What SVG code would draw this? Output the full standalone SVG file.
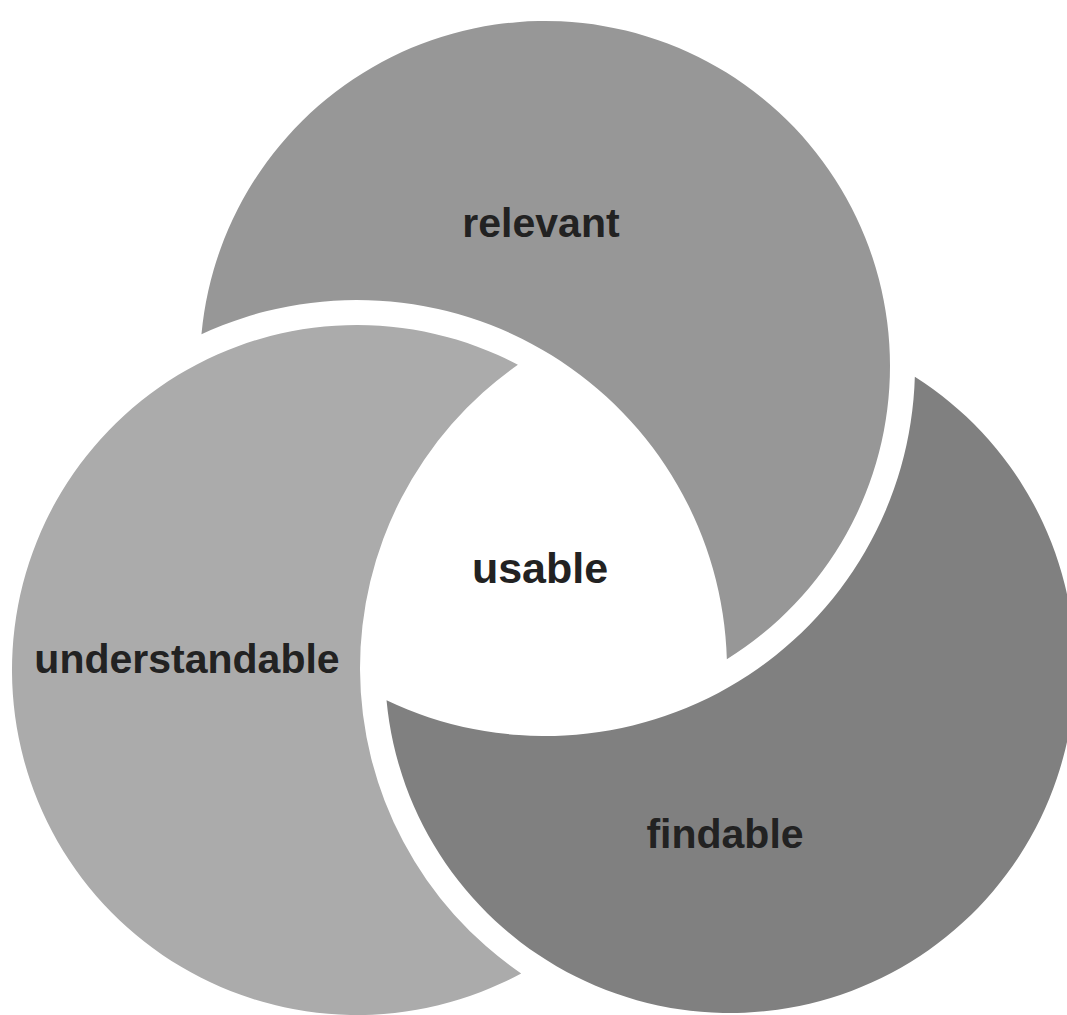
<svg xmlns="http://www.w3.org/2000/svg" width="1067" height="1015" viewBox="0 0 1067 1015">
<style>
.lbl{font-family:"Liberation Sans",Arial,sans-serif;font-weight:bold;font-size:41px;fill:#222;text-anchor:middle}
</style>
<rect width="1067" height="1015" fill="#fff"/>
<g id="relevant">
<path d="M201.46,334.27 A345,345 0 1 1 726.84,659.19 A370,370 0 0 0 201.46,334.27 Z" fill="#979797"/>
<text class="lbl" x="541" y="237">relevant</text>
</g>
<g id="understandable">
<path d="M517.91,364.83 A345,345 0 1 0 521.17,973.43 A370,370 0 0 1 517.91,364.83 Z" fill="#ababab"/>
<text class="lbl" x="187" y="673">understandable</text>
</g>
<g id="findable">
<path d="M914.84,376.70 A345,345 0 1 1 386.52,700.34 A370,370 0 0 0 914.84,376.70 Z" fill="#808080"/>
<text class="lbl" x="725" y="848">findable</text>
</g>
<g id="usable">
<text class="lbl" x="540" y="583" style="font-size:43px">usable</text>
</g>
<g id="connectors"/>
</svg>
